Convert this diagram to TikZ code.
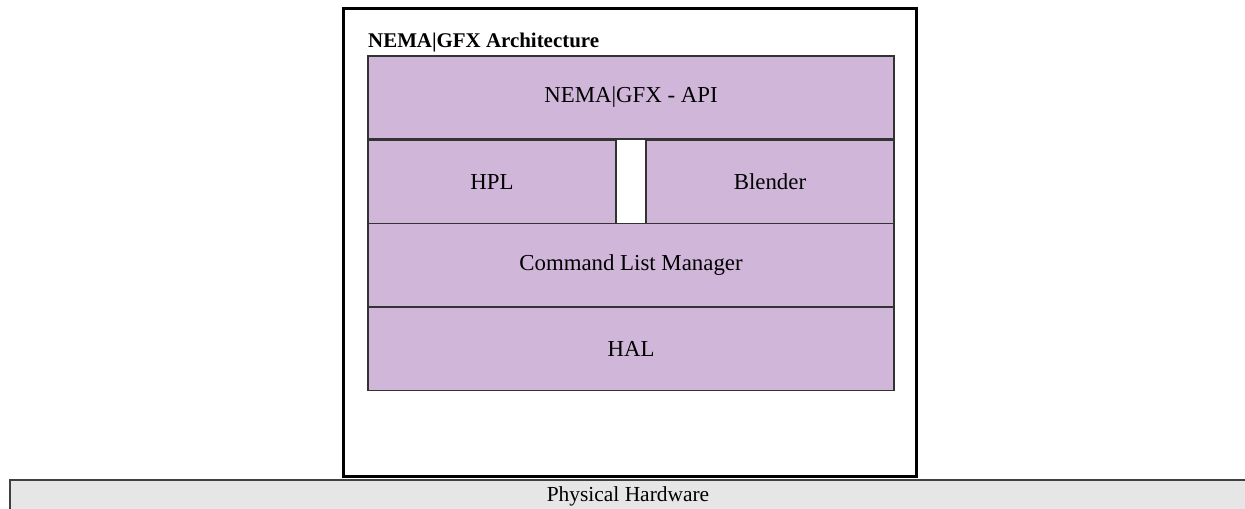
\documentclass[tikz,border=0pt]{standalone}
\usepackage{fontspec}
\setmainfont{Liberation Serif}
\usetikzlibrary{positioning}
\definecolor{layerfill}{RGB}{208,183,218}
\definecolor{hwfill}{RGB}{230,230,230}

\begin{document}
\begin{tikzpicture}[x=0.02cm,y=-0.02cm]
	\path [use as bounding box] (0,0) rectangle (1245,508);
	\tikzstyle{every node} = [font=\fontsize{13}{15}\selectfont]
	\tikzstyle{layer} = [draw=black!80, fill=layerfill, line width=0.7pt, minimum height=1.66cm, inner sep=0pt]
	\coordinate (TL) at (343.5,8.5);
	\coordinate (BR) at (916.5,476.5);
	\fill[hwfill] (10,480) rectangle (1247,510);
	\draw[black!75, line width=0.8pt] (10,510) -- (10,480) -- (1247,480);
	\node[font=\fontsize{12.2}{14}\selectfont] (hw) at (628,496) {Physical Hardware};
	\draw[line width=1.8pt] (TL) rectangle (BR);
	\node[anchor=west, font=\fontsize{11.9}{14}\selectfont\bfseries] (title) at (362,42) {NEMA|GFX Architecture};
	\node[layer, minimum width=10.52cm] (api) at (631,97.5) {NEMA|GFX - API};
	\node[layer, minimum width=4.96cm, below=0pt of api.south west, anchor=north west] (hpl) {HPL};
	\node[layer, minimum width=4.96cm, below=0pt of api.south east, anchor=north east] (blender) {Blender};
	\draw[black!80, line width=0.7pt, fill=white] (hpl.north east) rectangle (blender.south west);
	\node[layer, minimum width=10.52cm, below=0pt of api.south, yshift=-1.66cm] (clm) {Command List Manager};
	\node[layer, minimum width=10.52cm, below=0pt of clm] (hal) {HAL};
\end{tikzpicture}
\end{document}
